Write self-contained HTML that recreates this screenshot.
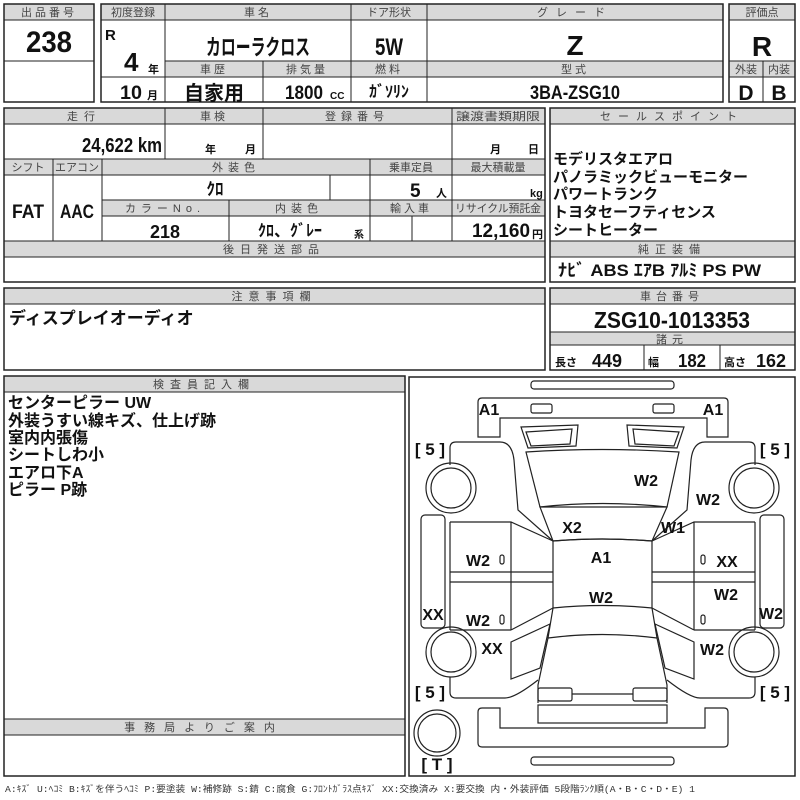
<!DOCTYPE html>
<html><head><meta charset="utf-8"><style>
html,body{margin:0;padding:0;background:#fff}
svg{display:block}
.h{fill:#d9d9d9;stroke:#222;stroke-width:1}
.b{fill:none;stroke:#222;stroke-width:1.5}
.l{stroke:#222;stroke-width:1}
.ht{font-family:"Liberation Sans","Noto Sans CJK JP",sans-serif;font-size:11px;fill:#444;text-anchor:middle}
.t{font-family:"Liberation Sans","Noto Sans CJK JP",sans-serif;font-weight:bold;fill:#111}
.m{text-anchor:middle}
.d{fill:none;stroke:#222;stroke-width:1.2}
.c{font-family:"Liberation Sans",sans-serif;font-weight:bold;font-size:16px;fill:#111;text-anchor:middle}
</style></head><body>
<svg width="800" height="800" viewBox="0 0 800 800" xmlns="http://www.w3.org/2000/svg">
<!-- Box1 -->
<rect class="h" x="4" y="4" width="90" height="16"/>
<text class="ht" x="49" y="16" style="letter-spacing:3px">出品番号</text>
<rect class="b" x="4" y="4" width="90" height="98"/>
<line class="l" x1="4" y1="61" x2="94" y2="61"/>
<text class="t m" x="49" y="52" font-size="30" textLength="46" lengthAdjust="spacingAndGlyphs">238</text>

<!-- Box2 -->
<rect class="h" x="101" y="4" width="622" height="16"/>
<rect class="h" x="165" y="61" width="558" height="16"/>
<rect class="b" x="101" y="4" width="622" height="98"/>
<line class="l" x1="165" y1="4" x2="165" y2="102"/>
<line class="l" x1="351" y1="4" x2="351" y2="102"/>
<line class="l" x1="427" y1="4" x2="427" y2="102"/>
<line class="l" x1="263" y1="61" x2="263" y2="102"/>
<line class="l" x1="101" y1="77" x2="723" y2="77"/>
<text class="ht" x="133" y="16">初度登録</text>
<text class="ht" x="258" y="16" style="letter-spacing:3px">車名</text>
<text class="ht" x="389" y="16">ドア形状</text>
<text class="ht" x="575" y="16" style="letter-spacing:8px">グレード</text>
<text class="ht" x="214" y="73" style="letter-spacing:3px">車歴</text>
<text class="ht" x="307" y="73" style="letter-spacing:3px">排気量</text>
<text class="ht" x="389" y="73" style="letter-spacing:3px">燃料</text>
<text class="ht" x="575" y="73" style="letter-spacing:3px">型式</text>
<text class="t" x="105" y="40" font-size="15">R</text>
<text class="t" x="124" y="71" font-size="26">4</text>
<text class="t" x="148" y="73" font-size="11" font-weight="normal">年</text>
<text class="t" x="120" y="99" font-size="19" textLength="22" lengthAdjust="spacingAndGlyphs">10</text>
<text class="t" x="147" y="99" font-size="11" font-weight="normal">月</text>
<text class="t m" x="258" y="55" font-size="22" textLength="104" lengthAdjust="spacingAndGlyphs">カローラクロス</text>
<text class="t m" x="389" y="55" font-size="24" textLength="28" lengthAdjust="spacingAndGlyphs">5W</text>
<text class="t m" x="575" y="55" font-size="28">Z</text>
<text class="t m" x="214" y="100" font-size="20">自家用</text>
<text class="t" x="285" y="99" font-size="19" textLength="38" lengthAdjust="spacingAndGlyphs">1800</text>
<text class="t" x="330" y="99" font-size="10" font-weight="normal">CC</text>
<text class="t m" x="389" y="97" font-size="16" textLength="40" lengthAdjust="spacingAndGlyphs">ｶﾞｿﾘﾝ</text>
<text class="t m" x="575" y="99" font-size="19" textLength="90" lengthAdjust="spacingAndGlyphs">3BA-ZSG10</text>

<!-- Box3 -->
<rect class="h" x="729" y="4" width="66" height="16"/>
<rect class="h" x="729" y="61" width="66" height="16"/>
<rect class="b" x="729" y="4" width="66" height="98"/>
<line class="l" x1="763" y1="61" x2="763" y2="102"/>
<line class="l" x1="729" y1="77" x2="795" y2="77"/>
<text class="ht" x="762" y="16">評価点</text>
<text class="ht" x="746" y="73">外装</text>
<text class="ht" x="779" y="73">内装</text>
<text class="t m" x="762" y="56" font-size="28">R</text>
<text class="t m" x="746" y="100" font-size="21">D</text>
<text class="t m" x="779" y="100" font-size="21">B</text>

<!-- Section 2 left -->
<rect class="h" x="4" y="108" width="541" height="16"/>
<rect class="h" x="4" y="159" width="541" height="16"/>
<rect class="h" x="102" y="200" width="443" height="16"/>
<rect class="h" x="4" y="241" width="541" height="16"/>
<rect class="b" x="4" y="108" width="541" height="174"/>
<line class="l" x1="165" y1="108" x2="165" y2="159"/>
<line class="l" x1="263" y1="108" x2="263" y2="159"/>
<line class="l" x1="452" y1="108" x2="452" y2="241"/>
<line class="l" x1="53" y1="159" x2="53" y2="241"/>
<line class="l" x1="102" y1="159" x2="102" y2="241"/>
<line class="l" x1="370" y1="159" x2="370" y2="241"/>
<line class="l" x1="330" y1="175" x2="330" y2="200"/>
<line class="l" x1="229" y1="200" x2="229" y2="241"/>
<line class="l" x1="412" y1="216" x2="412" y2="241"/>
<text class="ht" x="84" y="120" style="letter-spacing:6px">走行</text>
<text class="ht" x="214" y="120" style="letter-spacing:3px">車検</text>
<text class="ht" x="357" y="120" style="letter-spacing:5px">登録番号</text>
<text class="ht" x="498" y="120" textLength="84" lengthAdjust="spacingAndGlyphs">譲渡書類期限</text>
<text class="ht" x="28" y="171">シフト</text>
<text class="ht" x="77" y="171">エアコン</text>
<text class="ht" x="236" y="171" style="letter-spacing:5px">外装色</text>
<text class="ht" x="411" y="171">乗車定員</text>
<text class="ht" x="498" y="171">最大積載量</text>
<text class="ht" x="165" y="212" style="letter-spacing:5px">カラーNo.</text>
<text class="ht" x="299" y="212" style="letter-spacing:5px">内装色</text>
<text class="ht" x="411" y="212" style="letter-spacing:3px">輸入車</text>
<text class="ht" x="498" y="212" textLength="86" lengthAdjust="spacingAndGlyphs">リサイクル預託金</text>
<text class="ht" x="274" y="253" style="letter-spacing:6px">後日発送部品</text>
<text class="t" x="82" y="152" font-size="20" textLength="80" lengthAdjust="spacingAndGlyphs">24,622 km</text>
<text class="t" x="205" y="153" font-size="11" font-weight="normal">年</text>
<text class="t" x="245" y="153" font-size="11" font-weight="normal">月</text>
<text class="t" x="490" y="153" font-size="11" font-weight="normal">月</text>
<text class="t" x="528" y="153" font-size="11" font-weight="normal">日</text>
<text class="t m" x="28" y="218" font-size="19" textLength="32" lengthAdjust="spacingAndGlyphs">FAT</text>
<text class="t m" x="77" y="218" font-size="19" textLength="34" lengthAdjust="spacingAndGlyphs">AAC</text>
<text class="t m" x="215" y="195" font-size="17">ｸﾛ</text>
<text class="t" x="410" y="197" font-size="19">5</text>
<text class="t" x="436" y="197" font-size="11" font-weight="normal">人</text>
<text class="t" x="530" y="197" font-size="11" font-weight="normal">kg</text>
<text class="t m" x="165" y="238" font-size="18" textLength="30" lengthAdjust="spacingAndGlyphs">218</text>
<text class="t m" x="290" y="236" font-size="16">ｸﾛ、ｸﾞﾚｰ</text>
<text class="t" x="354" y="238" font-size="10" font-weight="normal">系</text>
<text class="t" x="472" y="237" font-size="19" textLength="58" lengthAdjust="spacingAndGlyphs">12,160</text>
<text class="t" x="532" y="238" font-size="11" font-weight="normal">円</text>

<!-- Section 2 right -->
<rect class="h" x="550" y="108" width="245" height="16"/>
<rect class="h" x="550" y="241" width="245" height="16"/>
<rect class="b" x="550" y="108" width="245" height="174"/>
<text class="ht" x="672" y="120" style="letter-spacing:7px">セールスポイント</text>
<text class="ht" x="672" y="253" style="letter-spacing:6px">純正装備</text>
<g class="t" font-size="15">
<text x="553" y="164">モデリスタエアロ</text>
<text x="553" y="182">パノラミックビューモニター</text>
<text x="553" y="199">パワートランク</text>
<text x="553" y="217">トヨタセーフティセンス</text>
<text x="553" y="235">シートヒーター</text>
<text x="558" y="276" font-size="17" textLength="203" lengthAdjust="spacingAndGlyphs">ﾅﾋﾞ  ABS  ｴｱB  ｱﾙﾐ  PS  PW</text>
</g>

<!-- Section 3 -->
<rect class="h" x="4" y="288" width="541" height="16"/>
<rect class="b" x="4" y="288" width="541" height="82"/>
<text class="ht" x="274" y="300" style="letter-spacing:6px">注意事項欄</text>
<text class="t" x="9" y="324" font-size="17">ディスプレイオーディオ</text>
<rect class="h" x="550" y="288" width="245" height="16"/>
<rect class="h" x="550" y="332" width="245" height="13"/>
<rect class="b" x="550" y="288" width="245" height="82"/>
<line class="l" x1="644" y1="345" x2="644" y2="370"/>
<line class="l" x1="720" y1="345" x2="720" y2="370"/>
<text class="ht" x="672" y="300" style="letter-spacing:5px">車台番号</text>
<text class="ht" x="672" y="343" style="letter-spacing:5px">諸元</text>
<text class="t m" x="672" y="328" font-size="23" textLength="156" lengthAdjust="spacingAndGlyphs">ZSG10-1013353</text>
<text class="t" x="555" y="366" font-size="11" font-weight="normal">長さ</text>
<text class="t" x="592" y="367" font-size="18" textLength="30" lengthAdjust="spacingAndGlyphs">449</text>
<text class="t" x="648" y="366" font-size="11" font-weight="normal">幅</text>
<text class="t" x="678" y="367" font-size="18" textLength="28" lengthAdjust="spacingAndGlyphs">182</text>
<text class="t" x="724" y="366" font-size="11" font-weight="normal">高さ</text>
<text class="t" x="756" y="367" font-size="18" textLength="30" lengthAdjust="spacingAndGlyphs">162</text>

<!-- Section 4 left -->
<rect class="h" x="4" y="376" width="401" height="16"/>
<rect class="h" x="4" y="719" width="401" height="16"/>
<rect class="b" x="4" y="376" width="401" height="400"/>
<text class="ht" x="204" y="388" style="letter-spacing:6px">検査員記入欄</text>
<text class="ht" x="204" y="731" style="letter-spacing:9px">事務局よりご案内</text>
<g class="t" font-size="16">
<text x="8" y="408">センターピラー UW</text>
<text x="8" y="426">外装うすい線キズ、仕上げ跡</text>
<text x="8" y="443">室内内張傷</text>
<text x="8" y="460">シートしわ小</text>
<text x="8" y="478">エアロ下A</text>
<text x="8" y="495">ピラー P跡</text>
</g>

<!-- Diagram -->
<rect class="b" x="409" y="377" width="386" height="399"/>
<g class="d">
<rect x="531" y="381" width="143" height="8" rx="3"/>
<rect x="531" y="757" width="143" height="8" rx="3"/>
<path d="M482 398 H724 Q728 398 728 402 V437 H707 V418 H500 V437 H478 V402 Q478 398 482 398 Z"/>
<rect x="531" y="404" width="21" height="9" rx="2"/>
<rect x="653" y="404" width="21" height="9" rx="2"/>
<path d="M521 427 L578 425 L576 446 L528 448 Z"/><path d="M526 432 L572 429 L570 444 L531 446 Z"/>
<path d="M684 427 L627 425 L629 446 L677 448 Z"/><path d="M679 432 L633 429 L635 444 L674 446 Z"/>
<path d="M526 452 Q602 447 679 452 L667 507 L540 507 Z"/>
<path d="M540 507 Q602 500 667 507 L652 541 Q602 537 553 541 Z"/>
<path d="M553 541 Q602 537 652 541 L652 608 Q602 603 553 608 Z"/>
<path d="M553 608 L548 638 L538 685 L538 703"/>
<path d="M652 608 L657 638 L667 685 L667 703"/>
<path d="M548 638 Q602 631 657 638"/>
<rect x="538" y="688" width="34" height="13" rx="2"/>
<rect x="633" y="688" width="34" height="13" rx="2"/>
<line x1="572" y1="694" x2="633" y2="694"/>
<rect x="538" y="705" width="129" height="18"/>
<path d="M482 708 H500 V728 H705 V708 H724 Q728 708 728 712 V743 Q728 747 724 747 H482 Q478 747 478 743 V712 Q478 708 482 708 Z"/>
<path d="M450 465 V448 Q450 442 456 442 H500 Q512 442 514 460 L518 510 L553 541"/>
<circle cx="451" cy="488" r="25"/><circle cx="451" cy="488" r="20"/>
<rect x="421" y="515" width="24" height="113" rx="4"/>
<path d="M450 522 H511 L553 541 M450 572 H553 M450 582 H553 M511 522 V630 M450 522 V630 M511 630 L553 608 M450 630 H511"/>
<circle cx="451" cy="652" r="25"/><circle cx="451" cy="652" r="20"/>
<path d="M511 642 L550 624 L540 668 L511 679 Z"/>
<path d="M450 677 V692 Q450 698 456 698 H505 Q515 698 538 680"/>
<path d="M755 465 V448 Q755 442 749 442 H705 Q693 442 691 460 L687 510 L652 541"/>
<circle cx="754" cy="488" r="25"/><circle cx="754" cy="488" r="20"/>
<rect x="760" y="515" width="24" height="113" rx="4"/>
<path d="M755 522 H694 L652 541 M755 572 H652 M755 582 H652 M694 522 V630 M755 522 V630 M694 630 L652 608 M755 630 H694"/>
<circle cx="754" cy="652" r="25"/><circle cx="754" cy="652" r="20"/>
<path d="M694 642 L655 624 L665 668 L694 679 Z"/>
<path d="M755 677 V692 Q755 698 749 698 H700 Q690 698 667 680"/>
<circle cx="437" cy="733" r="23"/><circle cx="437" cy="733" r="19"/>
<rect x="500" y="555" width="4" height="9" rx="2"/><rect x="500" y="615" width="4" height="9" rx="2"/>
<rect x="701" y="555" width="4" height="9" rx="2"/><rect x="701" y="615" width="4" height="9" rx="2"/>
</g>
<g class="c">
<text x="430" y="455" font-size="17">[ 5 ]</text>
<text x="775" y="455" font-size="17">[ 5 ]</text>
<text x="430" y="698" font-size="17">[ 5 ]</text>
<text x="775" y="698" font-size="17">[ 5 ]</text>
<text x="437" y="770" font-size="17">[ T ]</text>
<text x="489" y="415">A1</text><text x="713" y="415">A1</text>
<text x="646" y="486">W2</text><text x="708" y="505">W2</text>
<text x="572" y="533">X2</text><text x="673" y="533">W1</text>
<text x="601" y="563">A1</text>
<text x="478" y="566">W2</text><text x="727" y="567">XX</text>
<text x="601" y="603">W2</text><text x="726" y="600">W2</text>
<text x="433" y="620">XX</text><text x="478" y="626">W2</text><text x="771" y="619">W2</text>
<text x="492" y="654">XX</text><text x="712" y="655">W2</text>
</g>
<text x="5" y="792" font-family="Liberation Mono,'Noto Sans CJK JP',monospace" font-size="9" fill="#333" textLength="690" lengthAdjust="spacingAndGlyphs">A:ｷｽﾞ U:ﾍｺﾐ B:ｷｽﾞを伴うﾍｺﾐ P:要塗装 W:補修跡 S:錆 C:腐食 G:ﾌﾛﾝﾄｶﾞﾗｽ点ｷｽﾞ XX:交換済み X:要交換  内・外装評価  5段階ﾗﾝｸ順(A・B・C・D・E) 1</text>
</svg>
</body></html>
